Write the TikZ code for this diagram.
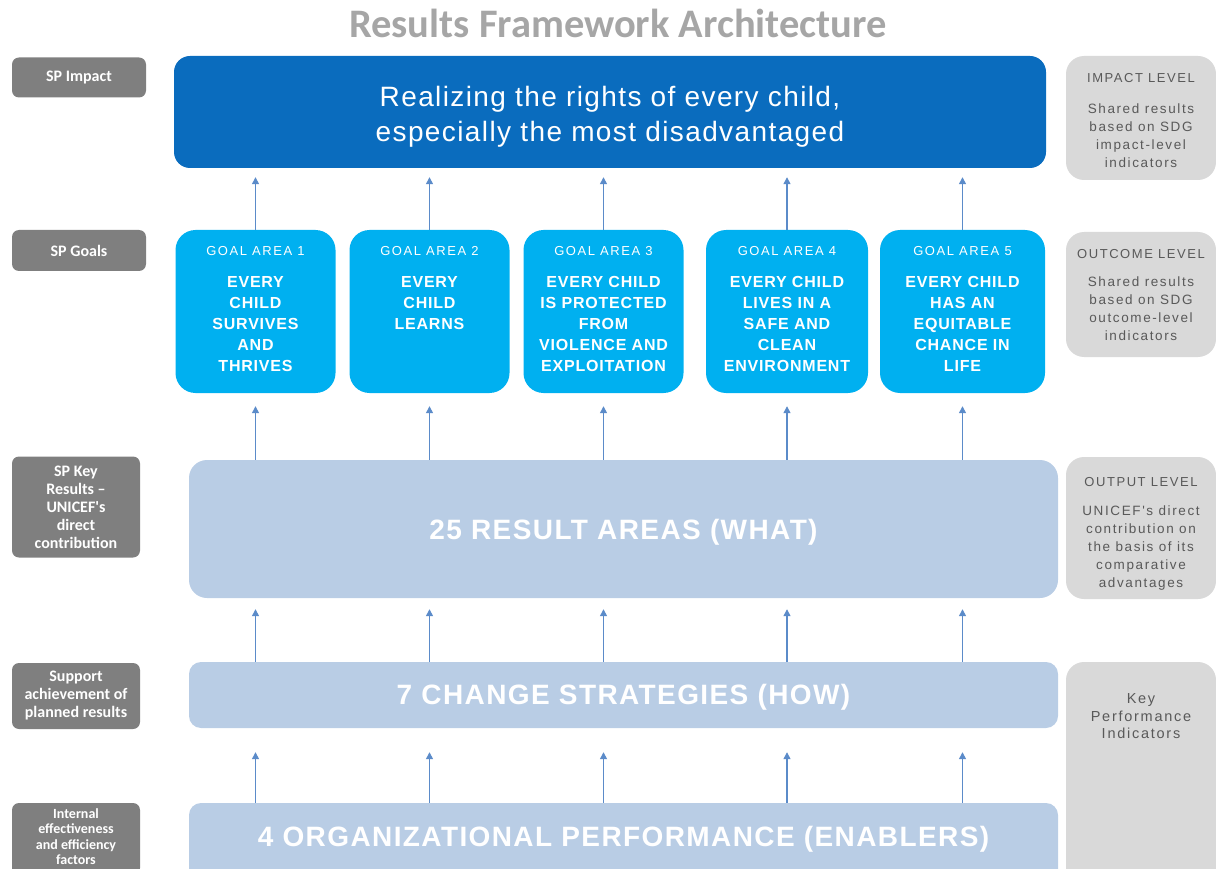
\documentclass[tikz,border=0pt]{standalone}
\usepackage{fontspec}
\setmainfont{Liberation Sans}[LetterSpace=5]
\newfontfamily\headfont{Carlito}
\newfontfamily\spacedfont{Liberation Sans}[LetterSpace=12]
\usetikzlibrary{positioning,arrows.meta}
\definecolor{impblue}{HTML}{0A6CBE}
\definecolor{goalblue}{HTML}{00B0F0}
\definecolor{steel}{HTML}{B9CDE5}
\definecolor{lblgray}{HTML}{7F7F7F}
\definecolor{lvlgray}{HTML}{D9D9D9}
\definecolor{lvltext}{HTML}{595959}
\definecolor{headgray}{HTML}{A6A6A6}
\definecolor{arrowcol}{HTML}{5B8BC9}
\tikzset{every picture/.style={x=1pt,y=-1pt}}
\tikzset{impbox/.style={fill=impblue,rounded corners=16,minimum width=872,minimum height=112,inner sep=0}}
\tikzset{imptext/.style={text=white,align=center,inner sep=0,font=\fontsize{28}{35}\selectfont}}
\tikzset{goalbox/.style={fill=goalblue,rounded corners=20,minimum width=160,minimum height=163,inner sep=0}}
\tikzset{goaltitle/.style={text=white,inner sep=0,font=\spacedfont\fontsize{13}{15}\selectfont}}
\tikzset{goaltext/.style={text=white,inner sep=0,align=center,font=\bfseries\fontsize{16}{21}\selectfont}}
\tikzset{widebox/.style={fill=steel,minimum width=869,inner sep=0,text=white,font=\bfseries\fontsize{28}{32}\selectfont}}
\tikzset{lbl/.style={fill=lblgray,rounded corners=7,inner sep=0,text=white,align=center,font=\headfont\bfseries\fontsize{16}{18}\selectfont}}
\tikzset{lvlbox/.style={fill=lvlgray,rounded corners=18,minimum width=150,inner sep=0}}
\tikzset{lvlhead/.style={text=lvltext,inner sep=0,font=\spacedfont\fontsize{13}{15}\selectfont}}
\tikzset{lvlbody/.style={text=lvltext,inner sep=0,align=center,font=\spacedfont\fontsize{13.5}{18}\selectfont}}
\tikzset{flow/.style={-{Triangle[length=7pt,width=7pt]},draw=arrowcol,line width=1.3pt}}

\begin{document}
\begin{tikzpicture}
\useasboundingbox (0,0) rectangle (1216,869);
\clip (0,0) rectangle (1216,869);
\node [text=headgray,font=\headfont\bfseries\fontsize{40.5}{44}\selectfont] (head) at (618,23) {Results Framework Architecture};
% impact
\node [impbox] (imp) at (610,112) {};
\node [imptext,yshift=-5pt] at (imp.center) {Realizing the rights of every child,\\especially the most disadvantaged};
% goal areas
\node [goalbox] (g1) at (255.5,311.5) {};
\node [goalbox] (g2) at (429.5,311.5) {};
\node [goalbox] (g3) at (603.5,311.5) {};
\node [goalbox,minimum width=162] (g4) at (787,311.5) {};
\node [goalbox,minimum width=165] (g5) at (962.5,311.5) {};
\node [goaltitle,below=16pt of g1.north] {GOAL AREA 1};
\node [goaltitle,below=16pt of g2.north] {GOAL AREA 2};
\node [goaltitle,below=16pt of g3.north] {GOAL AREA 3};
\node [goaltitle,below=16pt of g4.north] {GOAL AREA 4};
\node [goaltitle,below=16pt of g5.north] {GOAL AREA 5};
\node [goaltext,below=46pt of g1.north] {EVERY\\CHILD\\SURVIVES\\AND\\THRIVES};
\node [goaltext,below=46pt of g2.north] {EVERY\\CHILD\\LEARNS};
\node [goaltext,below=46pt of g3.north] {EVERY CHILD\\IS PROTECTED\\FROM\\VIOLENCE AND\\EXPLOITATION};
\node [goaltext,below=46pt of g4.north] {EVERY CHILD\\LIVES IN A\\SAFE AND\\CLEAN\\ENVIRONMENT};
\node [goaltext,below=46pt of g5.north] {EVERY CHILD\\HAS AN\\EQUITABLE\\CHANCE IN\\LIFE};
% lower layers
\node [widebox,rounded corners=18,minimum height=138] (ra) at (623.5,529) {};
\node [widebox,fill=none,yshift=-3pt] at (ra.center) {25 RESULT AREAS (WHAT)};
\node [widebox,rounded corners=12,minimum height=66] (cs) at (623.5,695) {};
\node [widebox,fill=none,yshift=-2pt] at (cs.center) {7 CHANGE STRATEGIES (HOW)};
\node [widebox,rounded corners=12,minimum height=90] (op) at (623.5,848) {};
\node [widebox,fill=none,below=23pt of op.north] {4 ORGANIZATIONAL PERFORMANCE (ENABLERS)};
% arrows
\draw [flow,shorten >=9pt] (g1.north) -- (g1.north |- imp.south);
\draw [flow,shorten >=9pt] (g2.north) -- (g2.north |- imp.south);
\draw [flow,shorten >=9pt] (g3.north) -- (g3.north |- imp.south);
\draw [flow,shorten >=9pt] (g4.north) -- (g4.north |- imp.south);
\draw [flow,shorten >=9pt] (g5.north) -- (g5.north |- imp.south);
\draw [flow,shorten >=13pt] (g1.south |- ra.north) -- (g1.south);
\draw [flow,shorten >=13pt] (g2.south |- ra.north) -- (g2.south);
\draw [flow,shorten >=13pt] (g3.south |- ra.north) -- (g3.south);
\draw [flow,shorten >=13pt] (g4.south |- ra.north) -- (g4.south);
\draw [flow,shorten >=13pt] (g5.south |- ra.north) -- (g5.south);
\draw [flow,shorten >=11pt] (g1.south |- cs.north) -- (g1.south |- ra.south);
\draw [flow,shorten >=11pt] (g2.south |- cs.north) -- (g2.south |- ra.south);
\draw [flow,shorten >=11pt] (g3.south |- cs.north) -- (g3.south |- ra.south);
\draw [flow,shorten >=11pt] (g4.south |- cs.north) -- (g4.south |- ra.south);
\draw [flow,shorten >=11pt] (g5.south |- cs.north) -- (g5.south |- ra.south);
\draw [flow,shorten >=24pt] (g1.south |- op.north) -- (g1.south |- cs.south);
\draw [flow,shorten >=24pt] (g2.south |- op.north) -- (g2.south |- cs.south);
\draw [flow,shorten >=24pt] (g3.south |- op.north) -- (g3.south |- cs.south);
\draw [flow,shorten >=24pt] (g4.south |- op.north) -- (g4.south |- cs.south);
\draw [flow,shorten >=24pt] (g5.south |- op.north) -- (g5.south |- cs.south);
% left labels
\node [lbl,minimum width=134,minimum height=40] (li) at (79,77.5) {SP Impact};
\node [lbl,minimum width=134,minimum height=41] (lg) at (79,250.5) {SP Goals};
\node [lbl,minimum width=128,minimum height=101] (lk) at (76,507) {SP Key\\Results –\\UNICEF's\\direct\\contribution};
\node [lbl,minimum width=128,minimum height=66] (ls) at (76,696) {Support\\achievement of\\planned results};
\node [lbl,minimum width=128,minimum height=72] (le) at (76,839) {};
\node [lbl,fill=none,font=\headfont\bfseries\fontsize{14}{15.5}\selectfont,yshift=2.5pt] at (le.center) {Internal\\effectiveness\\and efficiency\\factors};
% right levels
\node [lvlbox,minimum height=124] (ri) at (1141,118) {};
\node [lvlbox,minimum height=125] (ro) at (1141,294.5) {};
\node [lvlbox,minimum height=142] (rp) at (1141,528) {};
\node [lvlbox,minimum height=230] (rk) at (1141,777) {};
\node [lvlhead,below=17pt of ri.north] {IMPACT LEVEL};
\node [lvlbody,below=48pt of ri.north] {Shared results\\based on SDG\\impact-level\\indicators};
\node [lvlhead,below=17pt of ro.north] {OUTCOME LEVEL};
\node [lvlbody,below=45pt of ro.north] {Shared results\\based on SDG\\outcome-level\\indicators};
\node [lvlhead,below=20pt of rp.north] {OUTPUT LEVEL};
\node [lvlbody,below=49pt of rp.north] {UNICEF's direct\\contribution on\\the basis of its\\comparative\\advantages};
\node [lvlbody,font=\spacedfont\fontsize{14.5}{17.5}\selectfont,below=32pt of rk.north] {Key\\Performance\\Indicators};
\end{tikzpicture}
\end{document}
